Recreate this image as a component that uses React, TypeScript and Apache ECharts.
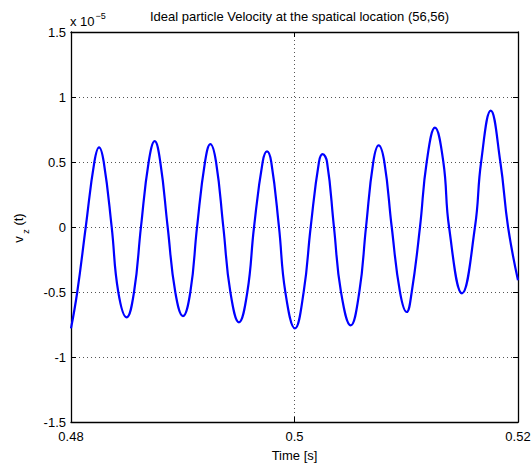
import React, { useEffect, useRef } from "react";
import * as echarts from "echarts";

// Time [s]
const times: number[] = [
  0.48, 0.48056, 0.48132, 0.48209, 0.48251, 0.48293, 0.48364, 0.48423, 0.48498,
  0.48564, 0.48626, 0.48695, 0.48749, 0.48799, 0.48865, 0.48933, 0.49002,
  0.49068, 0.49128, 0.49199, 0.49247, 0.49298, 0.49363, 0.49426, 0.49503,
  0.49578, 0.49638, 0.49715, 0.49754, 0.49792, 0.49861, 0.49918, 0.50004,
  0.50082, 0.50145, 0.50219, 0.50252, 0.50291, 0.50353, 0.50416, 0.50503,
  0.5058, 0.5064, 0.50705, 0.50753, 0.50804, 0.5087, 0.50944, 0.51004,
  0.51049, 0.51123, 0.51183, 0.51257, 0.51332, 0.51383, 0.51499, 0.51615,
  0.5167, 0.51756, 0.51842, 0.51911, 0.52,
];
// v_z(t) in units of 1e-5
const velocity: number[] = [
  -0.78, -0.5, 0, 0.5, 0.613, 0.5, 0, -0.5, -0.695,
  -0.5, 0, 0.5, 0.66, 0.5, 0, -0.5, -0.685,
  -0.5, 0, 0.5, 0.638, 0.5, 0, -0.5, -0.733,
  -0.5, 0, 0.5, 0.582, 0.5, 0, -0.5, -0.78,
  -0.5, 0, 0.5, 0.56, 0.5, 0, -0.5, -0.757,
  -0.5, 0, 0.5, 0.628, 0.5, 0, -0.5, -0.654,
  -0.5, 0, 0.5, 0.764, 0.5, 0, -0.51, 0,
  0.5, 0.895, 0.5, 0, -0.41,
];
const xTicks: number[] = [0.48, 0.5, 0.52];
const yTicks: number[] = [-1.5, -1, -0.5, 0, 0.5, 1, 1.5];

const FONT = "'Liberation Sans', Arial, Helvetica, sans-serif";
const FS = 13;

export default function App() {
  const ref = useRef<HTMLDivElement>(null);
  useEffect(() => {
    if (!ref.current) return;
    const chart = echarts.init(ref.current, null, { renderer: "svg" });
    const data = times.map((t, i) => [t, velocity[i]]);
    const gridLine = {
      show: true,
      lineStyle: { color: "#555", width: 1, type: [1, 3] as any },
    };
    const axisLine = { show: true, onZero: false, lineStyle: { color: "#000", width: 1.3 } };
    const tick = { show: true, inside: true, length: 5, lineStyle: { color: "#000" } };
    const xCommon = {
      type: "value" as const,
      min: xTicks[0],
      max: xTicks[xTicks.length - 1],
      interval: 0.02,
      axisLine,
      axisTick: tick,
    };
    const yCommon = {
      type: "value" as const,
      min: yTicks[0],
      max: yTicks[yTicks.length - 1],
      interval: 0.5,
      axisLine,
      axisTick: tick,
    };
    chart.setOption({
      animation: false,
      backgroundColor: "#fff",
      textStyle: { fontFamily: FONT },
      title: {
        text: "Ideal particle Velocity at the spatical location (56,56)",
        left: 294.5,
        textAlign: "center",
        top: 5,
        textStyle: { fontSize: FS, fontWeight: "normal", color: "#000", fontFamily: FONT },
      },
      grid: {
        left: 71,
        right: 13,
        top: 32,
        bottom: 42,
        containLabel: false,
        outerBoundsMode: "none",
      } as any,
      xAxis: [
        {
          ...xCommon,
          position: "bottom",
          splitLine: gridLine,
          axisLabel: {
            color: "#000",
            fontSize: FS,
            fontFamily: FONT,
            margin: 8,
            formatter: (v: number) => String(Math.round(v * 100) / 100),
          },
          name: "Time [s]",
          nameLocation: "middle",
          nameGap: 27,
          nameTextStyle: { color: "#000", fontSize: FS, fontFamily: FONT },
        },
        {
          ...xCommon,
          position: "top",
          splitLine: { show: false },
          axisLabel: { show: false },
        },
      ],
      yAxis: [
        {
          ...yCommon,
          position: "left",
          splitLine: gridLine,
          axisLabel: {
            color: "#000",
            fontSize: FS,
            fontFamily: FONT,
            margin: 5,
            formatter: (v: number) => String(Math.round(v * 10) / 10),
          },
        },
        {
          ...yCommon,
          position: "right",
          splitLine: { show: false },
          axisLabel: { show: false },
        },
      ],
      graphic: [
        {
          type: "text",
          left: 70,
          top: 11,
          style: {
            text: "{n|x 10}{sup|−5}",
            fill: "#000",
            font: `${FS}px ${FONT}`,
            rich: {
              n: { fontSize: FS, lineHeight: 17, verticalAlign: "bottom", fontFamily: FONT },
              sup: { fontSize: 9, lineHeight: 9, verticalAlign: "top", padding: [0, 0, 0, 1], fontFamily: FONT },
            },
          } as any,
        },
        {
          type: "text",
          x: 21,
          y: 228,
          rotation: Math.PI / 2,
          style: {
            text: "{n|v}{sub| z}{n| (t)}",
            fill: "#000",
            font: `${FS}px ${FONT}`,
            align: "center",
            verticalAlign: "middle",
            rich: {
              n: { fontSize: FS, lineHeight: 19, verticalAlign: "top", fontFamily: FONT },
              sub: { fontSize: 9, lineHeight: 9, verticalAlign: "bottom", fontFamily: FONT },
            },
          } as any,
        },
      ],
      series: [
        {
          type: "line",
          data,
          xAxisIndex: 0,
          yAxisIndex: 0,
          smooth: 0.45,
          showSymbol: false,
          lineStyle: { color: "#0000ff", width: 2.2 },
          itemStyle: { color: "#0000ff" },
          clip: true,
        },
      ],
    });
    return () => chart.dispose();
  }, []);
  return (
    <div
      ref={ref}
      style={{ position: "absolute", left: 0, top: 0, width: 531, height: 464 }}
    />
  );
}
